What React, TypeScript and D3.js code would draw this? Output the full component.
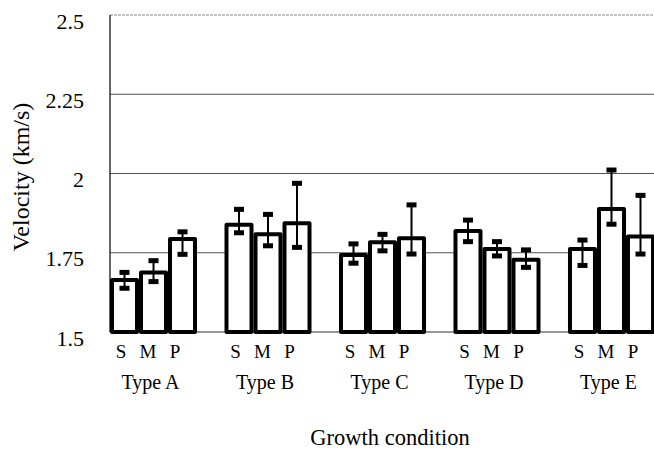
import React from "react";
import * as d3 from "d3";

const types = ["Type A", "Type B", "Type C", "Type D", "Type E"];
const conditions = ["S", "M", "P"];
// velocity (km/s) per type, in order S, M, P
const velocityA = [1.664, 1.688, 1.793];
const velocityB = [1.838, 1.808, 1.843];
const velocityC = [1.743, 1.783, 1.796];
const velocityD = [1.819, 1.762, 1.728];
const velocityE = [1.762, 1.888, 1.801];
// error bar upper ends
const upperA = [1.688, 1.725, 1.816];
const upperB = [1.887, 1.871, 1.969];
const upperC = [1.778, 1.808, 1.901];
const upperD = [1.853, 1.785, 1.759];
const upperE = [1.790, 2.011, 1.931];
// error bar lower ends
const lowerA = [1.638, 1.659, 1.745];
const lowerB = [1.813, 1.772, 1.767];
const lowerC = [1.717, 1.756, 1.746];
const lowerD = [1.785, 1.740, 1.704];
const lowerE = [1.710, 1.840, 1.746];
const yTicks = [1.5, 1.75, 2, 2.25, 2.5];
const yTickLabels = ["1.5", "1.75", "2", "2.25", "2.5"];

const velocities = [velocityA, velocityB, velocityC, velocityD, velocityE];
const uppers = [upperA, upperB, upperC, upperD, upperE];
const lowers = [lowerA, lowerB, lowerC, lowerD, lowerE];

const W = 654;
const H = 462;
const fontStyle = { fontFamily: "Liberation Serif, DejaVu Serif, Times New Roman, serif" };

export default function App() {
  const y = d3.scaleLinear().domain([1.5, 2.5]).range([332, 15]);
  const x0 = d3.scaleBand<string>().domain(types).range([110, 655]).paddingInner(0.24).paddingOuter(0);
  const x1 = d3.scaleBand<string>().domain(conditions).range([0, x0.bandwidth()]).padding(0);
  const xl = d3.scalePoint<string>().domain(conditions).range([11, 65]);

  return (
    <svg width={W} height={H} style={{ position: "absolute", left: 0, top: 0, background: "#fff" }}>
      <rect x={0} y={0} width={W} height={H} fill="#fff" />
      {/* gridlines */}
      {yTicks.slice(1).map((t) => (
        <line
          key={t}
          x1={110}
          x2={W}
          y1={y(t)}
          y2={y(t)}
          stroke={t === 2.5 ? "#888" : "#555"}
          strokeWidth={1.2}
          strokeDasharray={t === 2.5 ? "3,1" : undefined}
        />
      ))}
      {/* axes */}
      <line x1={110} x2={110} y1={y(2.5)} y2={y(1.5)} stroke="#000" strokeWidth={1.2} />
      <line x1={110} x2={W} y1={y(1.5)} y2={y(1.5)} stroke="#333" strokeWidth={1.2} />
      {/* y tick labels */}
      {yTicks.map((t, i) => (
        <text key={t} x={84} y={y(t) + 13.5} textAnchor="end" style={fontStyle} fontSize={22} fill="#000">
          {yTickLabels[i]}
        </text>
      ))}
      {/* bars */}
      {types.map((tp, gi) => (
        <g key={tp} transform={`translate(${x0(tp)},0)`}>
          {conditions.map((c, ci) => {
            const v = velocities[gi][ci];
            const bx = x1(c)! + 2;
            const bw = x1.bandwidth() - 4;
            const cx = x1(c)! + x1.bandwidth() / 2;
            const yu = y(uppers[gi][ci]);
            const yl = y(lowers[gi][ci]);
            return (
              <g key={c}>
                <rect
                  x={bx}
                  y={y(v)}
                  width={bw}
                  height={y(1.5) - y(v)}
                  fill="#fff"
                  stroke="#000"
                  strokeWidth={4}
                  strokeLinejoin="round"
                />
                <line x1={cx} x2={cx} y1={yu} y2={yl} stroke="#000" strokeWidth={2} />
                <rect x={cx - 5} y={yu - 2.5} width={10} height={5} fill="#000" />
                <rect x={cx - 5} y={yl - 2.5} width={10} height={5} fill="#000" />
              </g>
            );
          })}
          {conditions.map((c) => (
            <text key={c} x={xl(c)} y={358} textAnchor="middle" style={fontStyle} fontSize={19} fill="#000">
              {c}
            </text>
          ))}
          <text x={x0.bandwidth() / 2 - 3} y={389} textAnchor="middle" style={fontStyle} fontSize={20} fill="#000">
            {tp}
          </text>
        </g>
      ))}
      {/* axis titles */}
      <text x={390} y={445} textAnchor="middle" style={fontStyle} fontSize={22.5} fill="#000">
        Growth condition
      </text>
      <text
        transform={`translate(29,177) rotate(-90)`}
        textAnchor="middle"
        style={fontStyle}
        fontSize={24}
        fill="#000"
      >
        Velocity (km/s)
      </text>
    </svg>
  );
}
